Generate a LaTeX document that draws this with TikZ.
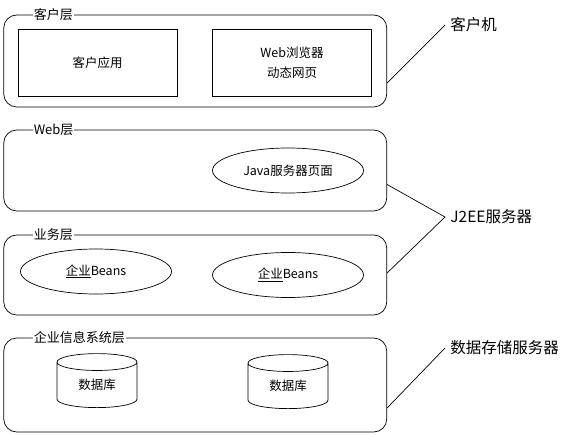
\documentclass[tikz,border=0pt]{standalone}
\usepackage{fontspec}
\setmainfont{Noto Sans CJK SC}
\usetikzlibrary{shapes.geometric,calc}

\begin{document}
\begin{tikzpicture}[x=1pt,y=-1pt,line width=0.7pt,
  tier/.style={draw,rounded corners=13pt,minimum width=383pt,inner sep=0pt},
  tiername/.style={fill=white,inner sep=1pt,anchor=west,font=\fontsize{13}{15}\selectfont},
  appbox/.style={draw,minimum width=159pt,minimum height=67pt,align=center,font=\fontsize{12.5}{20}\selectfont},
  comp/.style={draw,ellipse,minimum width=151pt,minimum height=45pt,inner sep=0pt,font=\fontsize{12.5}{15}\selectfont},
  store/.style={draw,cylinder,shape border rotate=90,aspect=0.45,minimum width=80pt,minimum height=54pt,inner sep=0pt,font=\fontsize{12.5}{15}\selectfont},
  server/.style={anchor=west,inner xsep=5pt,font=\fontsize{15.5}{18}\selectfont}]
\useasboundingbox (0,0) rectangle (585,435);

\foreach \nm/\cy/\h/\lbl in {client/61/92/客户层, web/170.5/81/Web层,
                             biz/275/80/业务层, eis/385/94/企业信息系统层} {
  \node[tier,minimum height=\h pt] (\nm) at (195.25,\cy) {};
  \node[tiername] (\nm-name) at ($(\nm.north west)+(29,0)$) {\lbl};
}

\node[appbox] (app) at (97.5,62.5) {客户应用};
\node[appbox] (browser) at (292,62.5) {Web浏览器\\动态网页};
\node[comp] (jsp) at (288,170.5) {Java服务器页面};
\node[comp] (ejb1) at (96,271.5) {\underline{企业}Beans};
\node[comp] (ejb2) at (288,275) {\underline{企业}Beans};
\node[store] (db1) at (97,385) {数据库};
\node[store] (db2) at (288,386) {数据库};

\node[server] (pc) at (445,25) {客户机};
\node[server] (j2ee) at (445,217) {J2EE服务器};
\node[server] (dbsrv) at (445,348) {数据存储服务器};
\draw ($(client.east)+(0,22)$) -- (pc.west);
\draw ($(web.east)+(0,14)$) -- (j2ee.west) -- ($(biz.east)+(0,-2)$);
\draw ($(eis.east)+(0,23)$) -- (dbsrv.west);
\end{tikzpicture}
\end{document}
